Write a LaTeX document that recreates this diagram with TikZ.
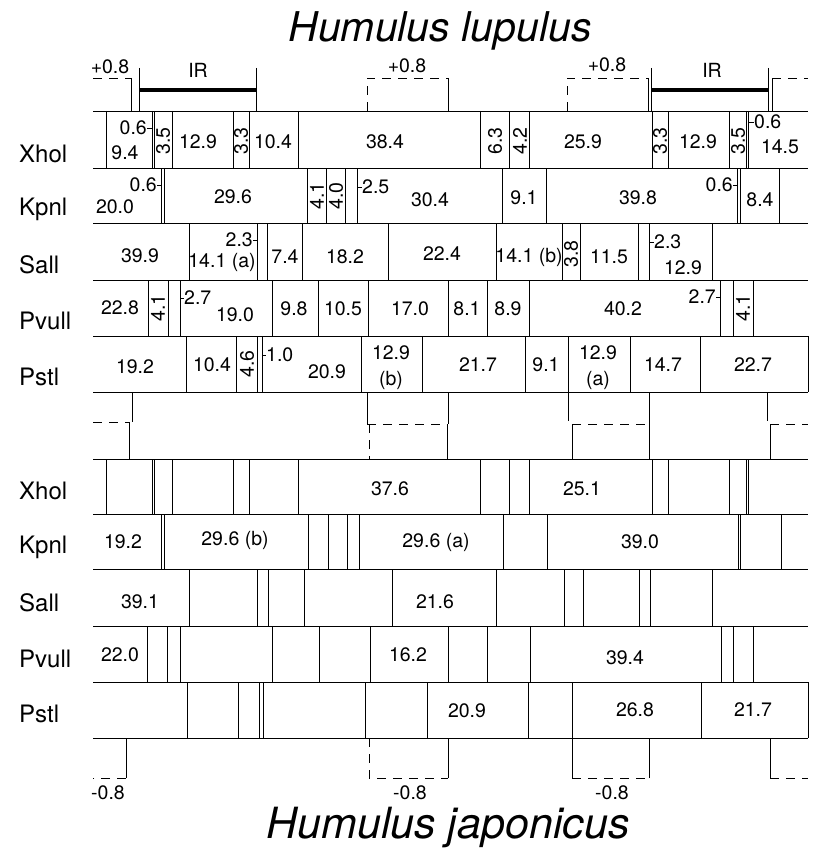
\documentclass[tikz,border=0pt]{standalone}
\usepackage{fontspec}
\setmainfont{TeX Gyre Heros}
\newcommand\vlines[3]{\foreach \xx in {#3} {\draw[seg] (\xx,#1) -- (\xx,#2);}}
\begin{document}
\begin{tikzpicture}[x=1pt,y=-1pt,
  seg/.style={line width=0.8pt},
  irbar/.style={line width=3.6pt},
  dsh/.style={line width=0.8pt, dash pattern=on 9pt off 7pt},
  num/.style={inner sep=0pt, font=\fontsize{19.5}{22}\selectfont},
  vnum/.style={num, rotate=90},
  rowlab/.style={anchor=west, inner sep=0pt, font=\fontsize{24}{26}\selectfont},
  ttl/.style={inner sep=0pt, font=\fontsize{41}{46}\selectfont\itshape}]
\useasboundingbox (0,0) rectangle (816,848);

% ---------- titles ----------
\node[ttl] (tlup) at (440,31) {Humulus lupulus};
\node[ttl, font=\fontsize{43}{48}\selectfont\itshape] (tjap) at (448,828) {Humulus japonicus};

% ---------- row labels ----------
\foreach \lab/\yy/\nm in {Xhol/154/a, Kpnl/209/b, Sall/265/c, Pvull/321/d, Pstl/377/e}
  \node[rowlab] (lup\nm) at (19,\yy) {\lab};
\foreach \lab/\yy/\nm in {Xhol/491/a, Kpnl/547/b, Sall/603/c, Pvull/659/d, Pstl/714/e}
  \node[rowlab] (jap\nm) at (19,\yy) {\lab};

% ---------- horizontal rules ----------
\foreach \yy in {111,168,223,280,336,392,459,514,569,626,682,738}
  \draw[seg] (93,\yy) -- (808,\yy);

% ---------- H. lupulus rows ----------
\vlines{111}{168}{106,152,154,172,233,249,298,480,509,529,652,668,729,746,748}
\vlines{168}{223}{161,164,307,326,345,357,502,546,737,740,779}
\vlines{223}{280}{189,257,267,302,388,496,562,580,638,649,712}
\vlines{280}{336}{148,168,180,272,318,368,448,487,529,720,733,753}
\vlines{336}{392}{186,236,257,262,361,422,525,568,630,700,808}

% ---------- H. japonicus rows ----------
\vlines{459}{514}{106,152,154,172,233,249,298,480,509,529,652,668,729,746,748}
\vlines{514}{569}{161,164,308,328,347,359,503,547,738,740,781}
\vlines{569}{626}{189,257,268,304,392,496,564,583,639,650,712}
\vlines{626}{682}{147,167,180,272,319,370,448,487,530,721,733,753}
\vlines{682}{738}{187,238,259,263,365,427,528,572,701,808}

% ---------- Xhol (lupulus) ----------
\node[num, anchor=east] (xa1) at (147,128) {0.6};
\draw[seg] (xa1.east) -- (152,128);
\node[num] (xa2) at (125,153) {9.4};
\node[vnum] (xa3) at (163,141) {3.5};
\node[num] (xa4) at (198,142) {12.9};
\node[vnum] (xa5) at (241,141) {3.3};
\node[num] (xa6) at (273,142) {10.4};
\node[num] (xa7) at (385,142) {38.4};
\node[vnum] (xa8) at (495,141) {6.3};
\node[vnum] (xa9) at (520,141) {4.2};
\node[num] (xa10) at (583,142) {25.9};
\node[vnum] (xa11) at (660,141) {3.3};
\node[num] (xa12) at (698,142) {12.9};
\node[vnum] (xa13) at (738,141) {3.5};
\node[num, anchor=west] (xa14) at (754,122) {0.6};
\draw[seg] (748,122) -- (xa14.west);
\node[num] (xa15) at (780,147) {14.5};

% ---------- Kpnl (lupulus) ----------
\node[num, anchor=east] (kb1) at (157,185) {0.6};
\draw[seg] (kb1.east) -- (161,185);
\node[num] (kb2) at (115,207) {20.0};
\node[num] (kb3) at (233,197) {29.6};
\node[vnum] (kb4) at (317,196) {4.1};
\node[vnum] (kb5) at (336,196) {4.0};
\node[num, anchor=west] (kb6) at (362,187) {2.5};
\draw[seg] (357,187) -- (kb6.west);
\node[num] (kb7) at (430,200) {30.4};
\node[num] (kb8) at (524,198) {9.1};
\node[num] (kb9) at (638,198) {39.8};
\node[num, anchor=east] (kb10) at (733,185) {0.6};
\draw[seg] (kb10.east) -- (737,185);
\node[num] (kb11) at (760,200) {8.4};

% ---------- Sall (lupulus) ----------
\node[num] (sc1) at (140,256) {39.9};
\node[num, anchor=east] (sc2) at (253,240) {2.3};
\draw[seg] (sc2.east) -- (257,240);
\node[num] (sc3) at (222,262) {14.1 (a)};
\node[num] (sc4) at (285,257) {7.4};
\node[num] (sc5) at (345,257) {18.2};
\node[num] (sc6) at (442,254) {22.4};
\node[num] (sc7) at (529,257) {14.1 (b)};
\node[vnum] (sc8) at (571,254) {3.8};
\node[num] (sc9) at (609,257) {11.5};
\node[num, anchor=west] (sc10) at (654,242) {2.3};
\draw[seg] (649,242) -- (sc10.west);
\node[num] (sc11) at (683,268) {12.9};

% ---------- Pvull (lupulus) ----------
\node[num] (pd1) at (120,308) {22.8};
\node[vnum] (pd2) at (158,308) {4.1};
\node[num, anchor=west] (pd3) at (184,298) {2.7};
\draw[seg] (180,298) -- (pd3.west);
\node[num] (pd4) at (235,315) {19.0};
\node[num] (pd5) at (294,309) {9.8};
\node[num] (pd6) at (343,309) {10.5};
\node[num] (pd7) at (410,309) {17.0};
\node[num] (pd8) at (467,309) {8.1};
\node[num] (pd9) at (508,309) {8.9};
\node[num] (pd10) at (623,309) {40.2};
\node[num, anchor=east] (pd11) at (716,297) {2.7};
\draw[seg] (pd11.east) -- (720,297);
\node[vnum] (pd12) at (743,308) {4.1};

% ---------- Pstl (lupulus) ----------
\node[num] (pe1) at (135,367) {19.2};
\node[num] (pe2) at (212,365) {10.4};
\node[vnum] (pe3) at (247,364) {4.6};
\node[num, anchor=west] (pe4) at (266,355) {1.0};
\draw[seg] (262,355) -- (pe4.west);
\node[num] (pe5) at (327,372) {20.9};
\node[num] (pe6) at (391,353) {12.9};
\node[num] (pe7) at (391,380) {(b)};
\node[num] (pe8) at (478,365) {21.7};
\node[num] (pe9) at (546,365) {9.1};
\node[num] (pe10) at (598,353) {12.9};
\node[num] (pe11) at (598,380) {(a)};
\node[num] (pe12) at (663,365) {14.7};
\node[num] (pe13) at (753,365) {22.7};

% ---------- japonicus values ----------
\node[num] (ja1) at (390,489) {37.6};
\node[num] (ja2) at (582,489) {25.1};
\node[num] (jb1) at (123,542) {19.2};
\node[num] (jb2) at (235,540) {29.6 (b)};
\node[num] (jb3) at (436,542) {29.6 (a)};
\node[num] (jb4) at (640,542) {39.0};
\node[num] (jc1) at (140,602) {39.1};
\node[num] (jc2) at (435,602) {21.6};
\node[num] (jd1) at (120,655) {22.0};
\node[num] (jd2) at (408,655) {16.2};
\node[num] (jd3) at (625,658) {39.4};
\node[num] (je1) at (467,711) {20.9};
\node[num] (je2) at (635,710) {26.8};
\node[num] (je3) at (753,710) {21.7};

% ---------- upper brackets: +0.8 and IR ----------
\node[num] (p1) at (110,67) {+0.8};
\draw[dsh] (93,78) -- (131,78);
\draw[seg] (131,78) -- (131,111);
\node[num] (p2) at (407,66) {+0.8};
\draw[dsh] (367,111) -- (367,78) -- (448,78);
\draw[seg] (448,78) -- (448,111);
\node[num] (p3) at (607,65) {+0.8};
\draw[dsh] (567,111) -- (567,78) -- (648,78);
\draw[seg] (648,78) -- (648,111);
\draw[seg] (772,111) -- (772,78);
\draw[dsh] (772,78) -- (808,78);

\node[num] (ir1) at (198,70) {IR};
\draw[seg] (139,68) -- (139,111);
\draw[seg] (256,68) -- (256,111);
\draw[irbar] (139,90) -- (256,90);
\node[num] (ir2) at (712,70) {IR};
\draw[seg] (651,68) -- (651,111);
\draw[seg] (768,68) -- (768,111);
\draw[irbar] (651,90) -- (768,90);

% ---------- links between the two species ----------
\draw[seg] (132,392) -- (132,422);
\draw[dsh] (93,422) -- (130,422);
\draw[seg] (129,422) -- (129,459);

\draw[seg] (367,392) -- (367,424);
\draw[dsh] (367,424) -- (448,424);
\draw[seg] (448,392) -- (448,424);
\draw[dsh] (369,424) -- (369,459);
\draw[seg] (447,424) -- (447,459);

\draw[seg] (568,392) -- (568,421);
\draw[dsh] (572,424) -- (649,424);
\draw[seg] (649,392) -- (649,459);
\draw[seg] (572,424) -- (572,459);

\draw[seg] (767,392) -- (767,421);
\draw[dsh] (770,424) -- (808,424);
\draw[seg] (770,424) -- (770,459);

% ---------- lower brackets: -0.8 ----------
\draw[seg] (126,738) -- (126,778);
\draw[dsh] (126,778) -- (93,778);
\node[num] (m1) at (108,793) {-0.8};
\draw[dsh] (369,738) -- (369,778) -- (448,778);
\draw[seg] (448,778) -- (448,738);
\node[num] (m2) at (410,793) {-0.8};
\draw[seg] (572,738) -- (572,778);
\draw[dsh] (572,778) -- (649,778);
\draw[seg] (649,778) -- (649,738);
\node[num] (m3) at (612,793) {-0.8};
\draw[seg] (770,738) -- (770,778);
\draw[dsh] (770,778) -- (808,778);
\end{tikzpicture}
\end{document}
